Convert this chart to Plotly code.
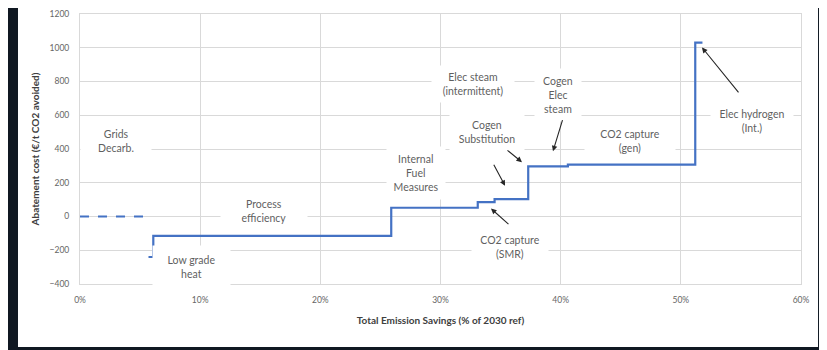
import plotly.graph_objects as go

# Dashed "Grids Decarb." segment (x in % of 2030 ref, y in €/t)
grids_x = [0.0, 5.8]
grids_y = [0, 0]

# Step (abatement cost curve) breakpoints
step_x = [5.7, 6.1, 25.9, 33.1, 34.5, 37.3, 40.6, 51.2, 51.8]
step_y = [-240, -115, 52, 85, 103, 297, 307, 1030, 1030]

# Text labels
label_text = ["Grids<br>Decarb.", "Low grade<br>heat", "Process<br>efficiency",
              "Internal<br>Fuel<br>Measures", "Elec steam<br>(intermittent)",
              "Cogen<br>Elec<br>steam", "Cogen<br>Substitution",
              "CO2 capture<br>(SMR)", "CO2 capture<br>(gen)", "Elec hydrogen<br>(Int.)"]
label_x = [3.0, 9.3, 15.3, 28.0, 32.7, 39.8, 33.9, 35.8, 45.8, 55.9]
label_y = [445, -299, 35, 258, 785, 721, 498, -182, 445, 563]
label_w = [68, 75, 84, 56, 80, 44, 72, 74, 88, 80]
label_h = [36, 40, 40, 50, 34, 50, 34, 32, 32, 32]

# Arrows: head (x, y) and tail (ax, ay) in data units
arrow_x = [51.76, 39.36, 36.78, 35.37, 34.2]
arrow_y = [1002, 387, 322, 182, 47]
arrow_ax = [54.9, 40.19, 35.45, 34.37, 35.78]
arrow_ay = [727, 580, 399, 316, -53]

x_ticks = [0, 10, 20, 30, 40, 50, 60]
x_tick_labels = ["0%", "10%", "20%", "30%", "40%", "50%", "60%"]
y_ticks = [-400, -200, 0, 200, 400, 600, 800, 1000, 1200]

blue = "#4472C4"
font_family = "Lato, 'Liberation Sans', sans-serif"

fig = go.Figure()
fig.add_trace(go.Scatter(x=grids_x, y=grids_y, mode="lines",
                         line=dict(color=blue, width=2, dash="dash"),
                         showlegend=False, hoverinfo="skip"))
fig.add_trace(go.Scatter(x=step_x, y=step_y, mode="lines", line_shape="hv",
                         line=dict(color=blue, width=2.2),
                         showlegend=False, hoverinfo="skip"))

annotations = []
for t, x, y, w, h in zip(label_text, label_x, label_y, label_w, label_h):
    annotations.append(dict(x=x, y=y, xref="x", yref="y", text=t, showarrow=False,
                            font=dict(family=font_family, size=10.5, color="#5f5f5f"),
                            bgcolor="white", width=w, height=h, align="center",
                            valign="middle"))
for x, y, ax, ay in zip(arrow_x, arrow_y, arrow_ax, arrow_ay):
    annotations.append(dict(x=x, y=y, ax=ax, ay=ay, xref="x", yref="y",
                            axref="x", ayref="y", text="", showarrow=True,
                            arrowhead=2, arrowsize=1.0, arrowwidth=1.1,
                            arrowcolor="#262626"))

fig.update_layout(
    width=827, height=350,
    margin=dict(l=72, r=34, t=6, b=74),
    paper_bgcolor="#101822",
    plot_bgcolor="white",
    font=dict(family=font_family, color="#595959"),
    annotations=annotations,
    shapes=[dict(type="rect", xref="paper", yref="paper",
                 x0=-0.086, x1=1.0236, y0=-0.233, y1=1.1,
                 fillcolor="white", line=dict(width=0), layer="below")],
    xaxis=dict(range=[0, 60], tickvals=x_ticks, ticktext=x_tick_labels,
               showgrid=True, gridcolor="#d9d9d9", gridwidth=1, automargin=False,
               zeroline=False, showline=True, linecolor="#d9d9d9", mirror=True,
               tickfont=dict(size=8.5, color="#666666"), ticks="",
               ticklabelstandoff=8, ticklabeloverflow="allow",
               title=dict(text="<b>Total Emission Savings (% of 2030 ref)</b>",
                          font=dict(size=10, color="#404040"), standoff=12)),
    yaxis=dict(range=[-400, 1200], tickvals=y_ticks,
               showgrid=True, gridcolor="#d9d9d9", gridwidth=1, automargin=False,
               zeroline=False, showline=True, linecolor="#d9d9d9", mirror=True,
               tickfont=dict(size=8.5, color="#666666"), ticks="",
               ticklabelstandoff=8, ticklabeloverflow="allow",
               title=dict(text="<b>Abatement cost (€/t CO2 avoided)</b>",
                          font=dict(size=10, color="#404040"), standoff=8)),
)

fig.write_html("out.html")
